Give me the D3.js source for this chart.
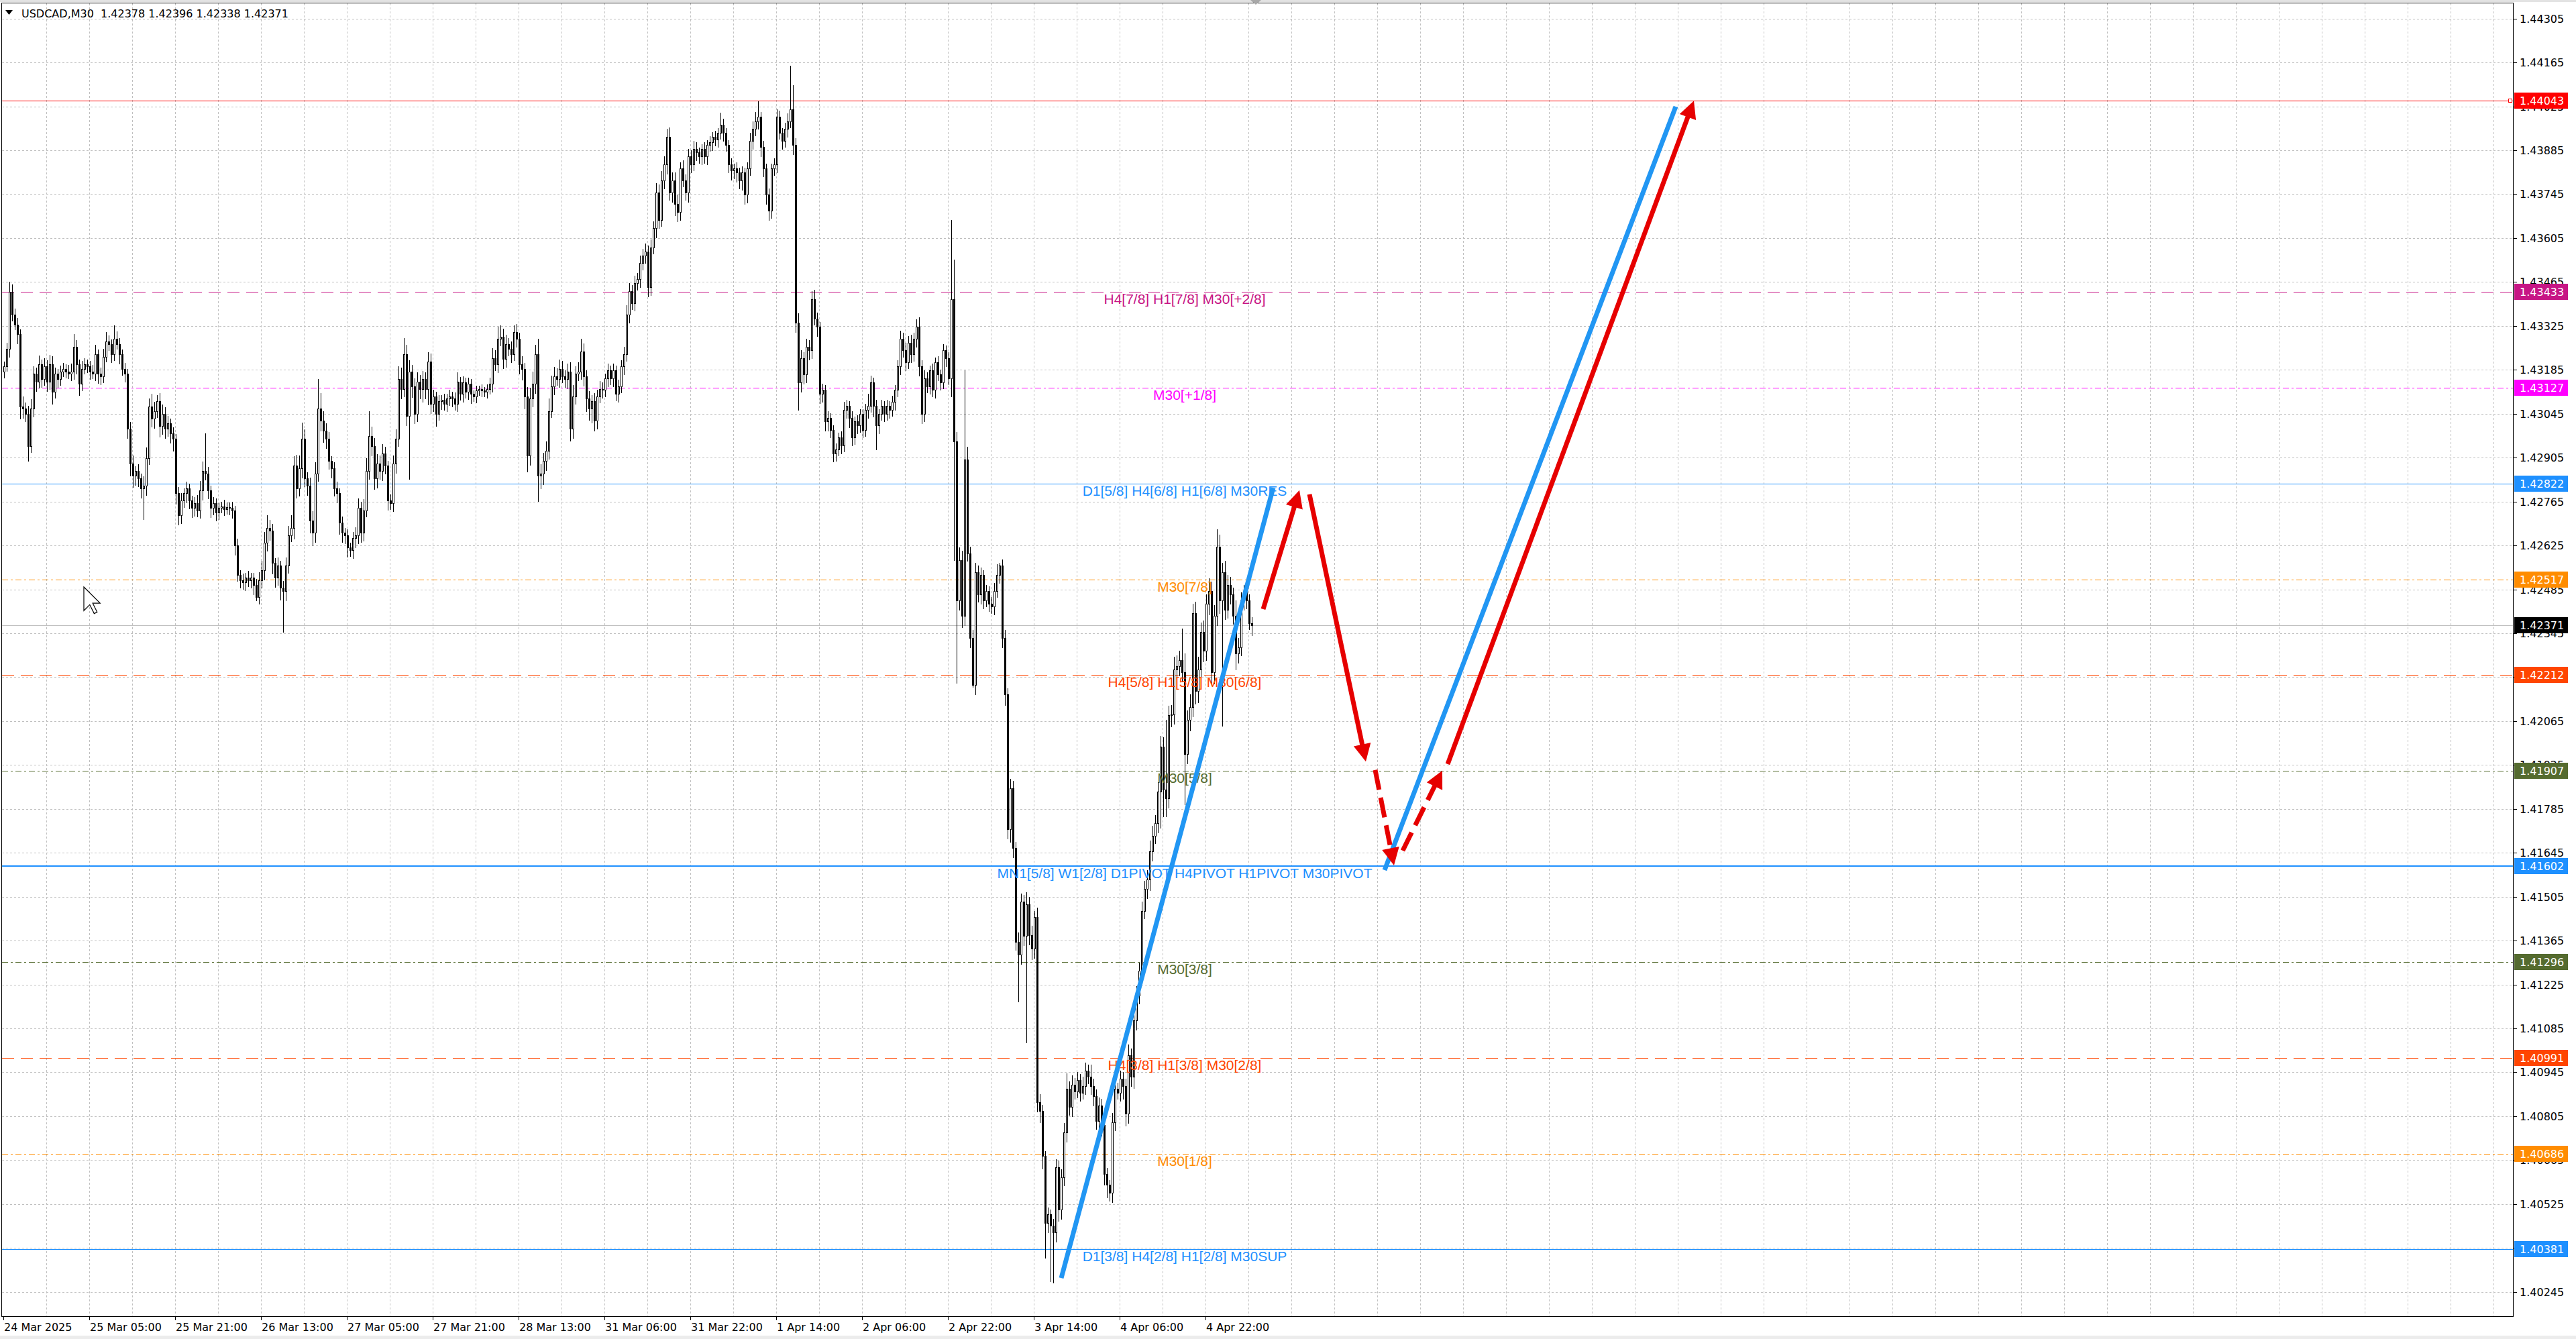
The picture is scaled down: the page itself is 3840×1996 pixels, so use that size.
<!DOCTYPE html>
<html>
<head>
<meta charset="utf-8">
<script src="https://cdn.jsdelivr.net/npm/d3@7"></script>
<style>
  html, body { margin: 0; padding: 0; background: #ffffff; }
  svg { display: block; }
</style>
</head>
<body>
<svg id="chart" width="3840" height="1996"></svg>
<script>
// ---------------- data ----------------
const symbol = "USDCAD,M30";
const firstOpen = 1.43180;

// M30 closes, one per bar (opens follow the previous close)
const closes = [
  1.43196,1.43251,1.43433,1.43362,1.43330,1.43298,1.43069,1.43061,1.43045,1.42942,
  1.43061,1.43172,1.43148,1.43203,1.43156,1.43196,1.43148,1.43203,1.43116,1.43172,
  1.43156,1.43180,1.43188,1.43180,1.43172,1.43180,1.43259,1.43203,1.43140,1.43188,
  1.43203,1.43196,1.43180,1.43172,1.43235,1.43172,1.43164,1.43227,1.43275,1.43267,
  1.43235,1.43283,1.43267,1.43235,1.43188,1.43172,1.42998,1.42887,1.42847,1.42863,
  1.42839,1.42808,1.42816,1.42903,1.43069,1.43029,1.43053,1.43085,1.43006,1.43045,
  1.42998,1.43014,1.42982,1.42966,1.42792,1.42721,1.42768,1.42792,1.42808,1.42768,
  1.42744,1.42760,1.42737,1.42800,1.42863,1.42855,1.42800,1.42744,1.42760,1.42729,
  1.42744,1.42750,1.42741,1.42748,1.42744,1.42737,1.42626,1.42531,1.42515,1.42507,
  1.42523,1.42515,1.42523,1.42499,1.42460,1.42515,1.42547,1.42634,1.42681,1.42673,
  1.42570,1.42523,1.42562,1.42491,1.42480,1.42562,1.42657,1.42681,1.42879,1.42808,
  1.42871,1.42966,1.42839,1.42816,1.42705,1.42665,1.42855,1.43061,1.43022,1.42990,
  1.42966,1.42895,1.42871,1.42808,1.42792,1.42697,1.42665,1.42657,1.42618,1.42610,
  1.42649,1.42657,1.42744,1.42665,1.42737,1.42863,1.42974,1.42942,1.42839,1.42887,
  1.42863,1.42919,1.42879,1.42768,1.42760,1.42887,1.42966,1.43156,1.43124,1.43235,
  1.43037,1.43180,1.43132,1.43045,1.43148,1.43124,1.43156,1.43124,1.43211,1.43077,
  1.43101,1.43045,1.43085,1.43089,1.43077,1.43093,1.43101,1.43093,1.43077,1.43148,
  1.43109,1.43144,1.43116,1.43140,1.43109,1.43101,1.43120,1.43124,1.43120,1.43116,
  1.43124,1.43140,1.43223,1.43203,1.43283,1.43291,1.43219,1.43267,1.43251,1.43235,
  1.43306,1.43283,1.43203,1.43188,1.43101,1.42911,1.43093,1.43140,1.43235,1.42847,
  1.42855,1.42895,1.42927,1.43053,1.43132,1.43164,1.43156,1.43188,1.43164,1.43156,
  1.43180,1.42998,1.43101,1.43172,1.43180,1.43243,1.43164,1.43093,1.43061,1.43085,
  1.43022,1.43101,1.43124,1.43121,1.43158,1.43184,1.43158,1.43184,1.43108,1.43133,
  1.43196,1.43234,1.43360,1.43436,1.43398,1.43461,1.43474,1.43525,1.43550,1.43562,
  1.43449,1.43575,1.43638,1.43751,1.43663,1.43789,1.43840,1.43928,1.43751,1.43789,
  1.43713,1.43688,1.43827,1.43789,1.43751,1.43865,1.43840,1.43890,1.43878,1.43865,
  1.43890,1.43865,1.43903,1.43910,1.43928,1.43920,1.43941,1.43966,1.43941,1.43903,
  1.43840,1.43820,1.43827,1.43814,1.43789,1.43814,1.43744,1.43827,1.43915,1.43953,
  1.43978,1.43991,1.43895,1.43827,1.43744,1.43693,1.43827,1.43840,1.43991,1.43941,
  1.43915,1.43953,1.43978,1.44016,1.43903,1.43335,1.43146,1.43222,1.43171,1.43259,
  1.43247,1.43411,1.43348,1.43322,1.43108,1.43121,1.43020,1.43032,1.42994,1.42919,
  1.42931,1.42969,1.42944,1.43057,1.43070,1.43032,1.42969,1.43020,1.43007,1.43045,
  1.42994,1.43057,1.43070,1.43146,1.43070,1.43007,1.43045,1.43070,1.43045,1.43070,
  1.43057,1.43083,1.43121,1.43196,1.43284,1.43247,1.43209,1.43272,1.43234,1.43284,
  1.43322,1.43196,1.43045,1.43158,1.43133,1.43184,1.43121,1.43209,1.43171,1.43146,
  1.43247,1.43222,1.43158,1.43411,1.42956,1.42450,1.42578,1.42400,1.42900,1.42600,
  1.42330,1.42180,1.42540,1.42470,1.42530,1.42450,1.42480,1.42440,1.42430,1.42480,
  1.42530,1.42560,1.42330,1.42150,1.41720,1.41850,1.41660,1.41360,1.41320,1.41490,
  1.41380,1.41480,1.41383,1.41340,1.41440,1.40850,1.40821,1.40678,1.40464,1.40493,
  1.40457,1.40435,1.40643,1.40507,1.40610,1.40753,1.40892,1.40835,1.40906,1.40885,
  1.40920,1.40880,1.40900,1.40950,1.40930,1.40900,1.40870,1.40790,1.40840,1.40778,
  1.40621,1.40586,1.40560,1.40785,1.40892,1.40880,1.40925,1.40900,1.40814,1.41000,
  1.40930,1.41110,1.41190,1.41270,1.41460,1.41530,1.41560,1.41650,1.41700,1.41740,
  1.41840,1.41983,1.41847,1.41819,1.42083,1.42086,1.42230,1.42240,1.42260,1.42220,
  1.41960,1.42070,1.42110,1.42410,1.42160,1.42230,1.42350,1.42290,1.42440,1.42480,
  1.42220,1.42400,1.42620,1.42450,1.42540,1.42420,1.42500,1.42470,1.42400,1.42280,
  1.42300,1.42450,1.42480,1.42450,1.42378,1.42371
];

// upper / lower shadow length of each bar, in points (0.00001)
const wickUp = [
  15,20,32,25,18,20,15,30,20,25, 30,25,20,28,15,25,20,30,25,20,
  15,18,20,15,20,25,40,20,15,25, 20,15,18,20,30,15,20,25,30,20,
  15,43,25,20,15,20,15,20,25,15, 20,15,30,35,25,40,30,20,25,30,
  20,25,15,20,15,20,25,15,20,15, 15,20,25,30,30,119,20,15,20,15,
  15,15,20,15,15,20,15,20,15,20, 15,20,15,15,20,25,30,35,40,25,
  20,15,25,15,20,25,30,40,30,35, 40,50,30,20,25,30,35,95,50,30,
  25,20,15,20,20,15,20,15,20,15, 20,25,30,20,35,40,79,30,25,30,
  25,30,20,15,20,25,30,40,35,52, 30,35,20,25,30,20,25,20,30,25,
  20,15,20,15,20,15,20,15,20,30, 15,20,15,20,15,10,15,10,15,10,
  15,20,30,25,40,35,25,30,20,25, 20,25,20,25,20,30,35,40,30,50,
  30,25,30,40,35,30,25,30,25,20, 25,30,35,25,30,40,25,20,25,20,
  25,20,25,20,15,20,15,20,15,20, 20,25,30,25,20,25,20,25,20,25,
  20,25,20,30,25,30,25,25,30,25, 25,30,20,25,20,25,20,25,20,15,
  15,20,15,20,15,20,15,38,20,15, 15,20,15,20,15,20,15,20,25,25,
  30,50,15,20,15,20,15,20,25,20, 15,20,25,139,76,20,30,25,20,25,
  20,25,30,20,15,20,15,20,15,15, 20,15,20,25,20,15,20,15,20,15,
  15,20,38,20,15,20,15,20,15,20, 15,20,15,20,25,20,25,20,25,20,
  25,30,20,25,20,15,20,15,20,15, 20,15,20,252,126,30,40,30,284,40,
  20,25,30,20,25,15,20,15,20,25, 35,10,20,25,20,30,25,20,30,25,
  20,39,25,30,20,30,25,20,15,20, 15,20,25,20,25,30,50,25,30,20,
  25,20,30,25,20,40,25,20,25,20, 15,20,15,30,50,20,25,20,25,34,
  20,25,30,25,30,25,30,35,30,25, 30,35,30,221,30,30,40,35,30,100,
  60,30,40,30,35,40,30,35,30,40, 30,35,57,40,30,35,30,25,20,50,
  30,25,20,25,20,18
];
const wickDn = [
  20,15,25,20,15,30,40,30,25,47, 20,25,30,20,25,20,30,25,40,20,
  25,20,15,20,15,20,25,30,35,20, 15,20,25,15,20,30,25,20,15,20,
  25,20,15,30,20,25,30,40,35,30, 25,30,100,30,20,25,30,20,35,25,
  30,25,30,40,35,30,25,20,30,25, 30,25,20,25,30,20,25,30,20,25,
  20,15,20,15,20,25,30,20,25,20, 25,20,25,30,10,20,25,30,25,30,
  35,30,25,40,131,30,25,20,35,30, 25,30,25,30,40,40,30,25,30,35,
  30,25,30,25,30,35,30,25,30,20, 25,30,25,30,25,20,25,30,35,30,
  25,30,25,30,20,25,30,25,30,25, 30,200,35,30,25,30,40,30,50,30,
  25,40,20,25,20,25,20,25,20,25, 20,25,20,25,30,15,20,15,20,15,
  20,15,25,20,25,20,30,25,20,25, 20,25,30,35,40,50,30,25,30,80,
  40,35,30,25,20,25,20,25,20,25, 30,40,30,25,20,25,30,40,35,45,
  30,25,20,25,20,25,20,25,20,25, 20,25,20,25,20,25,20,25,20,25,
  30,25,20,30,25,20,25,30,25,30, 35,30,25,20,25,30,25,20,25,20,
  25,20,25,20,25,20,25,20,25,20, 25,30,25,30,25,30,30,25,20,25,
  20,25,30,25,30,30,25,20,25,20, 25,20,25,20,30,30,89,30,30,25,
  30,25,20,30,30,25,30,30,25,26, 25,20,25,20,25,30,25,20,25,20,
  25,20,25,20,35,76,25,20,25,20, 25,20,25,20,25,20,25,20,25,20,
  25,30,30,25,20,25,20,25,20,25, 20,25,20,58,378,263,30,35,30,25,
  30,6,30,25,30,25,20,25,20,25, 20,25,30,35,30,40,30,25,150,30,
  30,339,30,35,30,30,35,40,110,30, 178,160,30,35,30,25,30,25,30,25,
  20,25,20,25,20,25,30,25,30,35, 35,40,24,30,25,20,25,40,40,30,
  30,35,30,25,30,25,30,35,30,25, 30,115,85,57,30,35,30,25,30,30,
  160,30,35,30,40,35,30,35,30,35, 40,35,30,40,400,30,25,30,25,50,
  30,25,30,25,20,33
];

// time axis labels, one every 32 bars
const timeLabels = [
  "24 Mar 2025", "25 Mar 05:00", "25 Mar 21:00", "26 Mar 13:00", "27 Mar 05:00",
  "27 Mar 21:00", "28 Mar 13:00", "31 Mar 06:00", "31 Mar 22:00", "1 Apr 14:00",
  "2 Apr 06:00", "2 Apr 22:00", "3 Apr 14:00", "4 Apr 06:00", "4 Apr 22:00"
];

// price axis ticks
const priceTicks = [
  1.44305, 1.44165, 1.44025, 1.43885, 1.43745, 1.43605, 1.43465, 1.43325, 1.43185, 1.43045,
  1.42905, 1.42765, 1.42625, 1.42485, 1.42345, 1.42205, 1.42065, 1.41925, 1.41785, 1.41645,
  1.41505, 1.41365, 1.41225, 1.41085, 1.40945, 1.40805, 1.40665, 1.40525, 1.40385, 1.40245
];

// Murrey-style levels and their names
const levelPrices = [1.44043, 1.43433, 1.43127, 1.42822, 1.42517, 1.42212, 1.41907, 1.41602, 1.41296, 1.40991, 1.40686, 1.40381];
const levelNames = [
  "", "H4[7/8] H1[7/8] M30[+2/8]", "M30[+1/8]", "D1[5/8] H4[6/8] H1[6/8] M30RES",
  "M30[7/8]", "H4[5/8] H1[5/8] M30[6/8]", "M30[5/8]",
  "MN1[5/8] W1[2/8] D1PIVOT H4PIVOT H1PIVOT M30PIVOT",
  "M30[3/8]", "H4[3/8] H1[3/8] M30[2/8]", "M30[1/8]", "D1[3/8] H4[2/8] H1[2/8] M30SUP"
];

// projected path: [bar, price] end points
const blueTrends = [
  [[394.25, 1.40289], [473.25, 1.42809]],
  [[514.75, 1.41590], [623.25, 1.44024]]
];
const redArrows = [
  [[469.5, 1.42422], [483.0, 1.42801]],
  [[486.75, 1.42788], [507.75, 1.41936]],
  [[511.25, 1.41909], [518.25, 1.41605]],
  [[521.5, 1.41652], [536.25, 1.41907]],
  [[538.25, 1.41928], [630.0, 1.44043]]
];
const redArrowDashed = [false, false, true, true, false];

// ---------------- styles ----------------
const DASH = "18,10", DASHDOT = "9,4,3,4";
const levelColor = ["#FF0000", "#C71585", "#FF00FF", "#1E90FF", "#FF8C00", "#FF4500", "#556B2F", "#1E90FF", "#556B2F", "#FF4500", "#FF8C00", "#1E90FF"];
const levelDash  = [null, DASH, DASHDOT, null, DASHDOT, DASH, DASHDOT, null, DASHDOT, DASH, DASHDOT, null];
const levelWidth = [1, 1, 1, 1, 1, 1, 1, 2, 1, 1, 1, 1];

const W = 3840, H = 1996;
const plot = { left: 2.5, top: 4.5, right: 3746.5, bottom: 1962.5 };
const axisFont = "'DejaVu Sans', Verdana, sans-serif";
const labelFont = "'Liberation Sans', Arial, sans-serif";

const svg = d3.select("#chart");

const x = d3.scaleLinear().domain([0, 935.25]).range([5, 3746]);
const y = d3.scaleLinear().domain([1.40245, 1.44305]).range([1925.7, 27.7]);

// frame
svg.append("rect").attr("x", 0).attr("y", 0).attr("width", W).attr("height", H).attr("fill", "#ffffff");
svg.append("rect").attr("x", 0).attr("y", 0).attr("width", W).attr("height", 3).attr("fill", "#e3e3e3");
svg.append("rect").attr("x", 0).attr("y", 1991).attr("width", W).attr("height", 5).attr("fill", "#ececec");

const clip = svg.append("defs").append("clipPath").attr("id", "plotClip");
clip.append("rect").attr("x", plot.left).attr("y", plot.top)
  .attr("width", plot.right - plot.left).attr("height", plot.bottom - plot.top);

const gPlot = svg.append("g").attr("clip-path", "url(#plotClip)");

// grid
const gridG = gPlot.append("g").attr("stroke", "#c0c0c0").attr("stroke-width", 1)
  .attr("stroke-dasharray", "3,3").attr("shape-rendering", "crispEdges");
const gridBars = d3.range(16, 935, 16);
gridG.selectAll("line.v").data(gridBars).join("line")
  .attr("x1", d => Math.round(x(d)) + 0.5).attr("x2", d => Math.round(x(d)) + 0.5)
  .attr("y1", plot.top).attr("y2", plot.bottom);
gridG.selectAll("line.h").data(priceTicks).join("line")
  .attr("x1", plot.left).attr("x2", plot.right)
  .attr("y1", d => Math.round(y(d)) + 0.5).attr("y2", d => Math.round(y(d)) + 0.5);

// level lines
const lastBar = closes.length - 1;
const lastClose = closes[lastBar];
gPlot.append("line")
  .attr("x1", plot.left).attr("x2", plot.right)
  .attr("y1", Math.round(y(lastClose)) + 0.5).attr("y2", Math.round(y(lastClose)) + 0.5)
  .attr("stroke", "#c0c0c0").attr("stroke-width", 1).attr("shape-rendering", "crispEdges");

gPlot.selectAll("line.level").data(levelPrices).join("line")
  .attr("class", "level")
  .attr("x1", plot.left).attr("x2", plot.right)
  .attr("y1", (d, i) => Math.round(y(d)) + (levelWidth[i] === 2 ? 0 : 0.5))
  .attr("y2", (d, i) => Math.round(y(d)) + (levelWidth[i] === 2 ? 0 : 0.5))
  .attr("stroke", (d, i) => levelColor[i])
  .attr("stroke-width", (d, i) => levelWidth[i])
  .attr("stroke-dasharray", (d, i) => levelDash[i])
  .attr("shape-rendering", "crispEdges");

// small handle at the right end of the first level
gPlot.append("rect")
  .attr("x", 3739.5).attr("y", Math.round(y(levelPrices[0])) - 2.5)
  .attr("width", 5).attr("height", 5)
  .attr("fill", "#ffffff").attr("stroke", levelColor[0]).attr("stroke-width", 1);

// candles
const bars = closes.map((c, i) => {
  const o = i === 0 ? firstOpen : closes[i - 1];
  const hi = Math.max(o, c) + wickUp[i] * 1e-5;
  const lo = Math.min(o, c) - wickDn[i] * 1e-5;
  return { i, o, h: hi, l: lo, c };
});

const candleG = gPlot.append("g").attr("shape-rendering", "crispEdges");
candleG.selectAll("line.wick").data(bars).join("line")
  .attr("x1", d => Math.round(x(d.i)) + 1.5).attr("x2", d => Math.round(x(d.i)) + 1.5)
  .attr("y1", d => Math.round(y(d.h))).attr("y2", d => Math.round(y(d.l)) + 1)
  .attr("stroke", "#000").attr("stroke-width", 1);
candleG.selectAll("rect.body").data(bars).join("rect")
  .attr("x", d => Math.round(x(d.i)) + 0.5)
  .attr("y", d => Math.round(y(Math.max(d.o, d.c))) + 0.5)
  .attr("width", 2)
  .attr("height", d => Math.max(0, Math.round(y(Math.min(d.o, d.c))) - Math.round(y(Math.max(d.o, d.c)))))
  .attr("fill", d => d.c >= d.o ? "#ffffff" : "#000000")
  .attr("stroke", "#000").attr("stroke-width", 1);

// level captions
gPlot.selectAll("text.levelName").data(levelPrices).join("text")
  .attr("x", 1766).attr("y", d => y(d) + 18)
  .attr("text-anchor", "middle")
  .attr("font-family", labelFont).attr("font-size", 21)
  .attr("fill", (d, i) => levelColor[i])
  .text((d, i) => levelNames[i]);

// projected path
const blue = "#2196F3", red = "#E60000";
gPlot.selectAll("line.trend").data(blueTrends).join("line")
  .attr("x1", d => x(d[0][0])).attr("y1", d => y(d[0][1]))
  .attr("x2", d => x(d[1][0])).attr("y2", d => y(d[1][1]))
  .attr("stroke", blue).attr("stroke-width", 7);

const headLen = 26, headW = 26;
redArrows.forEach((seg, k) => {
  const x1 = x(seg[0][0]), y1 = y(seg[0][1]);
  const x2 = x(seg[1][0]), y2 = y(seg[1][1]);
  const len = Math.hypot(x2 - x1, y2 - y1);
  const ux = (x2 - x1) / len, uy = (y2 - y1) / len;
  const nx = -uy, ny = ux;
  const bx = x2 - ux * headLen, by = y2 - uy * headLen;
  gPlot.append("line")
    .attr("x1", x1).attr("y1", y1)
    .attr("x2", bx + ux * 4).attr("y2", by + uy * 4)
    .attr("stroke", red).attr("stroke-width", 7)
    .attr("stroke-dasharray", redArrowDashed[k] ? "30,12" : null);
  gPlot.append("path")
    .attr("d", `M${x2},${y2}L${bx + nx * headW / 2},${by + ny * headW / 2}L${bx - nx * headW / 2},${by - ny * headW / 2}Z`)
    .attr("fill", red);
});

// mouse pointer
const cur = [[0,0],[0,16],[4,12],[7,18],[9,17],[6,11],[11,11]];
gPlot.append("path")
  .attr("d", "M" + cur.map(p => [125 + p[0] * 2.2, 875 + p[1] * 2.2].join(",")).join("L") + "Z")
  .attr("fill", "#ffffff").attr("stroke", "#000").attr("stroke-width", 1.2);

// plot border
svg.append("rect")
  .attr("x", plot.left).attr("y", plot.top)
  .attr("width", plot.right - plot.left).attr("height", plot.bottom - plot.top)
  .attr("fill", "none").attr("stroke", "#000").attr("stroke-width", 1)
  .attr("shape-rendering", "crispEdges");

// chart shift marker
svg.append("path").attr("d", `M${x(lastBar) - 1},0L${x(lastBar) + 15},0L${x(lastBar) + 7},7Z`).attr("fill", "#a8a8a8");

// price axis
const pa = svg.append("g");
pa.selectAll("line").data(priceTicks).join("line")
  .attr("x1", 3747).attr("x2", 3752)
  .attr("y1", d => Math.round(y(d)) + 0.5).attr("y2", d => Math.round(y(d)) + 0.5)
  .attr("stroke", "#000").attr("shape-rendering", "crispEdges");
pa.selectAll("text").data(priceTicks).join("text")
  .attr("x", 3756).attr("y", d => y(d) + 6)
  .attr("font-family", axisFont).attr("font-size", 16).attr("fill", "#000")
  .text(d => d.toFixed(5));

// price tags for levels and the last price
const tags = levelPrices.map((p, i) => ({ p, color: levelColor[i] }));
tags.push({ p: lastClose, color: "#000000" });
const tagG = svg.append("g");
tagG.selectAll("rect").data(tags).join("rect")
  .attr("x", 3748).attr("y", d => Math.round(y(d.p)) - 12)
  .attr("width", 80).attr("height", 24).attr("fill", d => d.color);
tagG.selectAll("text").data(tags).join("text")
  .attr("x", 3756).attr("y", d => Math.round(y(d.p)) + 6)
  .attr("font-family", axisFont).attr("font-size", 16).attr("fill", "#ffffff")
  .text(d => d.p.toFixed(5));

// time axis
const ta = svg.append("g");
const labelBars = timeLabels.map((t, k) => k * 32);
ta.selectAll("line").data(labelBars).join("line")
  .attr("x1", d => Math.round(x(d)) + 0.5).attr("x2", d => Math.round(x(d)) + 0.5)
  .attr("y1", plot.bottom).attr("y2", plot.bottom + 5)
  .attr("stroke", "#000").attr("shape-rendering", "crispEdges");
ta.selectAll("text").data(labelBars).join("text")
  .attr("x", d => x(d) + 1).attr("y", 1984)
  .attr("font-family", axisFont).attr("font-size", 16).attr("fill", "#000")
  .text((d, k) => timeLabels[k]);

// header: symbol, period and OHLC of the last bar
const lb = bars[lastBar];
svg.append("path").attr("d", "M8,15L19,15L13.5,22Z").attr("fill", "#000");
svg.append("text")
  .attr("x", 32).attr("y", 26)
  .attr("font-family", axisFont).attr("font-size", 16).attr("fill", "#000")
  .attr("xml:space", "preserve")
  .text(`${symbol}  ${lb.o.toFixed(5)} ${lb.h.toFixed(5)} ${lb.l.toFixed(5)} ${lb.c.toFixed(5)}`);
</script>
</body>
</html>
